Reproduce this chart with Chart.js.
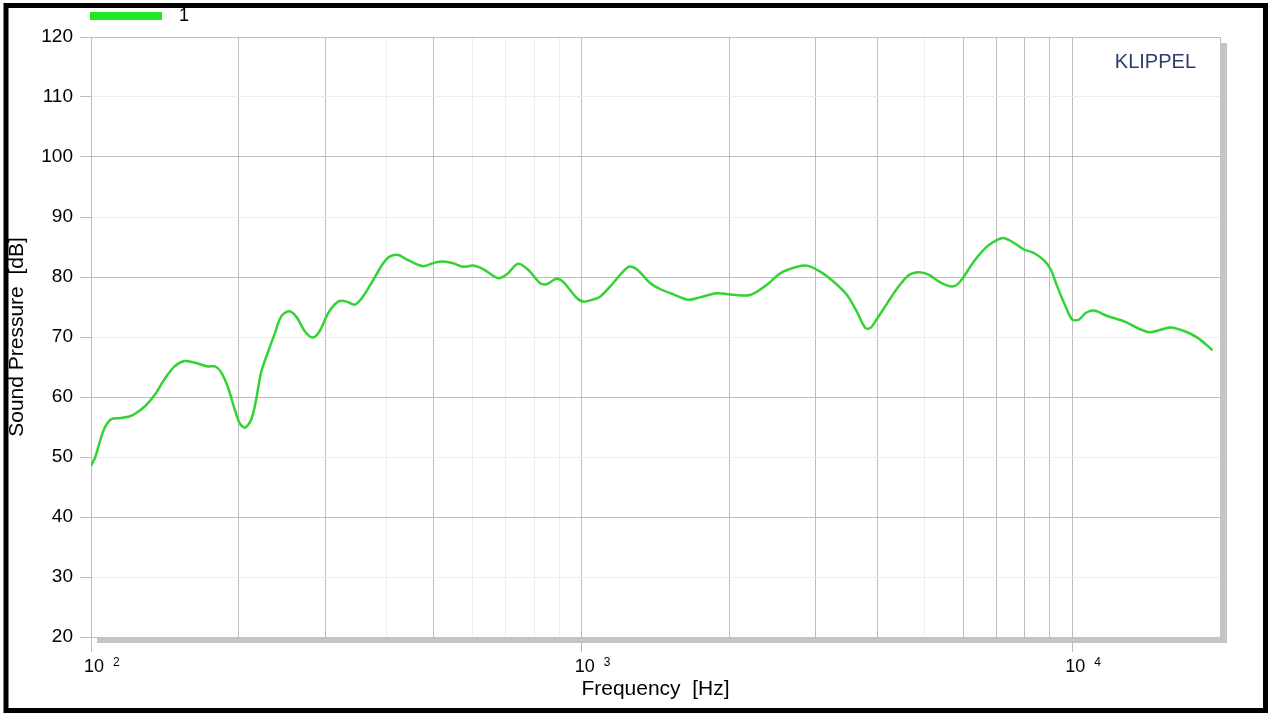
<!DOCTYPE html>
<html>
<head>
<meta charset="utf-8">
<title>Sound Pressure</title>
<script src="https://cdn.jsdelivr.net/npm/chart.js@4/dist/chart.umd.min.js"></script>
<style>
  html, body { margin: 0; padding: 0; background: #fff; }
  #wrap { position: relative; width: 1273px; height: 718px; }
</style>
</head>
<body>
<div id="wrap"><canvas id="spl" width="1273" height="718"></canvas></div>
<script>
'use strict';

/* ── Data ── */
const FREQ_HZ = [100, 102, 105, 107, 110, 115, 120, 123, 129, 135, 141, 148, 155, 163, 173, 179, 184, 190, 196, 201,
  206, 212, 217, 222, 229, 237, 244, 253, 262, 273, 283, 292, 304, 313, 321, 332, 345, 358, 376, 394,
  406, 422, 443, 475, 502, 522, 547, 573, 601, 630, 676, 703, 742, 778, 822, 848, 889, 917, 977, 1008,
  1040, 1090, 1160, 1245, 1295, 1379, 1445, 1538, 1651, 1743, 1886, 2008, 2206, 2386, 2539, 2747, 2879, 3064, 3263, 3474,
  3640, 3786, 3876, 3968, 4194, 4395, 4640, 4863, 5097, 5384, 5691, 5916, 6300, 6707, 7030, 7252, 7600, 7963, 8348, 8750,
  9031, 9320, 9690, 10000, 10316, 10645, 11068, 11788, 12747, 13576, 14330, 15144, 15871, 16898, 17993, 19310];

const SPL_DB = [48.5, 50.0, 53.4, 55.1, 56.3, 56.5, 56.8, 57.2, 58.5, 60.4, 62.9, 65.1, 66.0, 65.7, 65.1, 65.1, 64.2, 61.7, 58.1, 55.6,
  54.9, 56.2, 59.5, 64.0, 67.3, 70.6, 73.4, 74.3, 73.4, 70.9, 69.9, 70.9, 73.9, 75.3, 76.0, 75.9, 75.4, 76.7, 79.5, 82.3,
  83.4, 83.7, 82.8, 81.8, 82.4, 82.6, 82.3, 81.7, 81.9, 81.3, 79.8, 80.4, 82.2, 81.2, 79.0, 78.8, 79.7, 79.2, 76.5, 75.9,
  76.1, 76.7, 79.0, 81.7, 81.3, 79.0, 78.0, 77.1, 76.2, 76.6, 77.3, 77.1, 77.0, 78.7, 80.6, 81.7, 81.9, 80.9, 79.2, 77.0,
  74.2, 71.5, 71.5, 72.6, 75.6, 78.1, 80.3, 80.8, 80.4, 79.1, 78.4, 79.3, 82.6, 85.1, 86.2, 86.5, 85.7, 84.6, 84.0, 82.8,
  81.3, 78.4, 75.1, 72.9, 72.9, 74.0, 74.4, 73.5, 72.6, 71.5, 70.8, 71.2, 71.6, 71.0, 69.9, 67.8];

/* Ticks / gridlines */
const Y_TICKS      = [20, 30, 40, 50, 60, 70, 80, 90, 100, 110, 120];
const Y_MAJOR      = [20, 40, 60, 80, 100, 120];
const X_GRID       = [100, 200, 300, 400, 500, 600, 700, 800, 900, 1000,
                      2000, 3000, 4000, 5000, 6000, 7000, 8000, 9000, 10000, 20000];
const X_GRID_FAINT = [400, 600, 700, 800, 900, 5000];
const X_DECADES    = [100, 1000, 10000];
const X_EXPONENTS  = ['2', '3', '4'];

const SERIES_LABEL = '1';
const BRAND_TEXT   = 'KLIPPEL';

const FONT       = '"Liberation Sans", Arial, sans-serif';
const GRID_DARK  = '#bdbdbd';
const GRID_LIGHT = '#ededed';
const LINE_GREEN = '#34d334';

/* ── Decorations: shadow, decade labels, legend, frame ── */
const decor = {
  id: 'decor',
  beforeDraw(chart) {
    const c = chart.ctx;
    c.save();
    c.fillStyle = '#fff';
    c.fillRect(0, 0, chart.width, chart.height);
    c.restore();
  },
  beforeDatasetsDraw(chart) {
    const c = chart.ctx, a = chart.chartArea;
    c.save();
    c.fillStyle = '#c4c4c4';
    c.fillRect(a.left + 6, a.bottom, a.right - a.left + 1, 6);
    c.fillRect(a.right, a.top + 6, 7, a.bottom - a.top);
    c.restore();
  },
  afterDraw(chart) {
    const c = chart.ctx, xs = chart.scales.x;
    c.save();
    c.fillStyle = '#000';
    c.textBaseline = 'alphabetic';
    X_DECADES.forEach((v, i) => {
      const px = xs.getPixelForValue(v);
      c.font = '18px ' + FONT;
      c.textAlign = 'left';
      c.fillText('10', px - 7, 672);
      c.font = '12px ' + FONT;
      c.fillText(X_EXPONENTS[i], px + 22, 666);
    });

    /* legend */
    c.fillStyle = '#22e622';
    c.fillRect(90, 12, 72, 8);
    c.fillStyle = '#000';
    c.font = '18px ' + FONT;
    c.fillText(SERIES_LABEL, 179, 21);

    /* brand */
    c.fillStyle = '#2a3d6b';
    c.font = '20px ' + FONT;
    c.textAlign = 'right';
    c.fillText(BRAND_TEXT, 1196, 68);

    /* outer frame */
    c.strokeStyle = '#000';
    c.lineWidth = 5;
    c.strokeRect(6, 5.5, 1259.5, 705);
    c.restore();
  },
};

new Chart(document.getElementById('spl'), {
  type: 'line',
  data: {
    datasets: [{
      label: SERIES_LABEL,
      data: FREQ_HZ.map((f, i) => ({ x: f, y: SPL_DB[i] })),
      borderColor: LINE_GREEN,
      borderWidth: 2.5,
      pointRadius: 0,
      tension: 0.3,
      fill: false,
    }],
  },
  options: {
    responsive: false,
    animation: false,
    devicePixelRatio: 1,
    layout: { padding: { top: 37, right: 53, left: 0, bottom: 0 } },
    plugins: { legend: { display: false }, tooltip: { enabled: false } },
    scales: {
      x: {
        type: 'logarithmic',
        min: 100,
        max: 20000,
        afterBuildTicks: s => { s.ticks = X_GRID.map(v => ({ value: v })); },
        afterFit: s => { s.height = 81; },
        ticks: { display: false },
        grid: {
          color: ctx => X_GRID_FAINT.includes(ctx.tick.value) ? GRID_LIGHT : GRID_DARK,
          tickColor: ctx => X_DECADES.includes(ctx.tick.value) ? GRID_DARK : 'rgba(0,0,0,0)',
          tickLength: 15,
        },
        border: { color: GRID_DARK },
        title: {
          display: true,
          text: 'Frequency  [Hz]',
          color: '#000',
          font: { family: FONT, size: 21 },
          padding: { top: 0, bottom: 16 },
        },
      },
      y: {
        min: 20,
        max: 120,
        afterBuildTicks: s => { s.ticks = Y_TICKS.map(v => ({ value: v })); },
        afterFit: s => { s.width = 91; },
        ticks: {
          color: '#000',
          padding: 7,
          font: { family: FONT, size: 19 },
        },
        grid: {
          color: ctx => Y_MAJOR.includes(ctx.tick.value) ? GRID_DARK : GRID_LIGHT,
          tickColor: GRID_DARK,
          tickLength: 11,
        },
        border: { color: GRID_DARK },
        title: {
          display: true,
          text: 'Sound Pressure  [dB]',
          color: '#000',
          font: { family: FONT, size: 21 },
          padding: { top: 5, bottom: 0 },
        },
      },
    },
  },
  plugins: [decor],
});
</script>
</body>
</html>
